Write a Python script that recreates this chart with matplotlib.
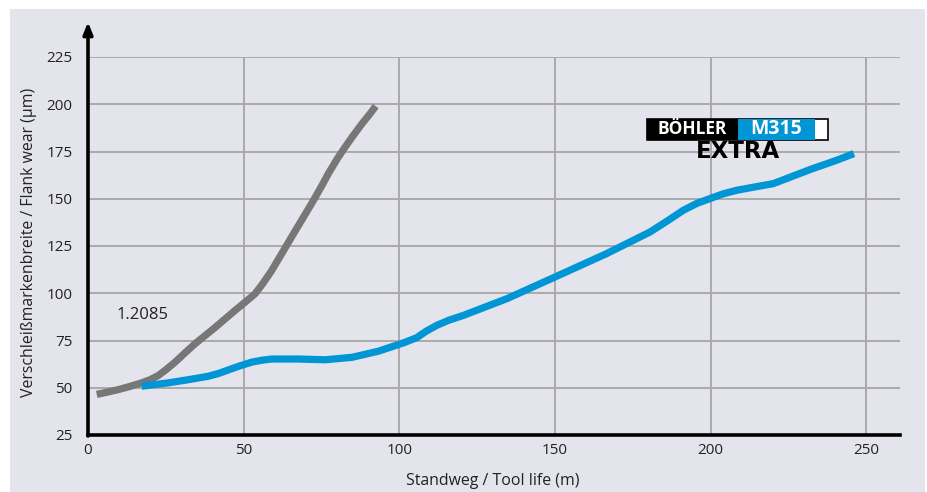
import matplotlib
matplotlib.use("Agg")
import matplotlib.pyplot as plt
from matplotlib.patches import Rectangle, FancyArrowPatch

# Data
steel_1_2085_x = [2.8, 6.0, 9.7, 13.5, 17.2, 20.0, 22.6, 25.0, 28.0, 31.0, 34.4, 40.9, 47.3, 51.0, 53.7,
                  56.0, 59.0, 65.4, 71.8, 75.0, 77.2, 80.0, 82.6, 85.0, 88.0, 90.5, 92.4]
steel_1_2085_y = [46.5, 47.6, 49.0, 50.7, 52.6, 54.3, 56.5, 59.5, 63.6, 68.2, 73.3, 82.0, 91.0, 96.0, 99.8,
                  104.8, 112.0, 129.8, 147.4, 156.6, 163.3, 171.0, 177.4, 183.0, 189.7, 194.8, 199.0]
m315_x = [17.2, 25.8, 32.0, 38.7, 42.0, 45.2, 49.0, 52.7, 56.0, 59.0, 67.6, 76.2, 84.8, 93.4, 101.4, 105.6,
          108.5, 112.0, 116.0, 120.6, 134.5, 150.0, 166.6, 180.5, 186.0, 191.2, 195.5, 199.8, 204.0,
          208.4, 214.0, 220.1, 232.0, 240.5, 246.0]
m315_y = [50.8, 52.6, 54.2, 56.1, 57.6, 59.5, 61.7, 63.6, 64.6, 65.2, 65.2, 64.8, 66.1, 69.4, 73.8, 76.5,
          79.8, 83.0, 85.8, 88.3, 97.1, 108.6, 121.0, 132.4, 138.2, 143.9, 147.5, 150.1, 152.6,
          154.5, 156.2, 158.0, 165.5, 170.4, 173.9]
x_ticks = [0, 50, 100, 150, 200, 250]
y_ticks = [25, 50, 75, 100, 125, 150, 175, 200, 225]
series_label = "1.2085"
x_label = "Standweg / Tool life (m)"
y_label = "Verschleißmarkenbreite / Flank wear (µm)"

plt.rcParams['font.family'] = ['Open Sans', 'DejaVu Sans']

W, H = 928, 492
fig = plt.figure(figsize=(W / 100, H / 100), dpi=100)
fig.patch.set_facecolor('white')

def fx(px):
    return px / W

def fy(py):
    return 1 - py / H

# panel background
fig.add_artist(Rectangle((fx(10), 0), fx(925) - fx(10), fy(9), transform=fig.transFigure,
                         facecolor='#e4e4ec', edgecolor='none', zorder=0))

ax = fig.add_axes([fx(88), fy(435), fx(900) - fx(88), fy(57) - fy(435)])
ax.set_facecolor('none')
ax.set_xlim(0, 260.8)
ax.set_ylim(25, 225)

for s in ['top', 'right', 'left']:
    ax.spines[s].set_visible(False)
ax.spines['bottom'].set_linewidth(2.6)
ax.spines['bottom'].set_color('black')

ax.set_xticks(x_ticks)
ax.set_yticks(y_ticks)
ax.tick_params(axis='both', length=0, labelsize=11, colors='#222222')
ax.tick_params(axis='x', pad=6)
ax.tick_params(axis='y', pad=11)

# gridlines
for yv in y_ticks[1:]:
    ax.axhline(yv, color='#aaaaaa', lw=1.4, zorder=1)
for xv in x_ticks[1:]:
    ax.axvline(xv, color='#aaaaaa', lw=1.4, zorder=1)

ax.plot(steel_1_2085_x, steel_1_2085_y, color='#777777', lw=5.2, solid_capstyle='butt',
        solid_joinstyle='round', zorder=3)
ax.plot(m315_x, m315_y, color='#0096d6', lw=5.2, solid_capstyle='butt',
        solid_joinstyle='round', zorder=4)

ax.text(9.2, 88.3, series_label, fontsize=12, color='#222222', ha='left', va='center')

# y axis with arrow
fig.add_artist(FancyArrowPatch(
    (fx(88), fy(436)), (fx(88), fy(22)), transform=fig.transFigure,
    arrowstyle='-|>,head_length=7,head_width=2.8', color='black', lw=2.6, zorder=5,
    shrinkA=0, shrinkB=0))

fig.text(fx(493), fy(481), x_label, fontsize=11.4, color='#222222', ha='center', va='center')
fig.text(fx(29), fy(242), y_label, fontsize=11.4, color='#222222', ha='center', va='center', rotation=90)

# Logo
bx0, by0, bx1, by1 = 647, 119, 828, 140
fig.add_artist(Rectangle((fx(bx0), fy(by1)), fx(bx1) - fx(bx0), fy(by0) - fy(by1), transform=fig.transFigure,
                         facecolor='white', edgecolor='black', lw=1.2, zorder=6))
fig.add_artist(Rectangle((fx(bx0), fy(by1)), fx(738) - fx(bx0), fy(by0) - fy(by1), transform=fig.transFigure,
                         facecolor='black', edgecolor='none', zorder=7))
fig.add_artist(Rectangle((fx(738), fy(by1)), fx(815) - fx(738), fy(by0) - fy(by1), transform=fig.transFigure,
                         facecolor='#0096d6', edgecolor='none', zorder=7))
fig.text(fx(692.5), fy(129.5), "BÖHLER", color='white', fontsize=12.5, fontweight='bold',
         ha='center', va='center', zorder=8)
fig.text(fx(776.5), fy(129.5), "M315", color='white', fontsize=14, fontweight='bold',
         ha='center', va='center', zorder=8)
fig.text(fx(738.5), fy(152), "EXTRA", color='black', fontsize=16.5, fontweight='heavy',
         family=['DejaVu Sans'], ha='center', va='center', zorder=8)

fig.savefig("out.png", dpi=100)
